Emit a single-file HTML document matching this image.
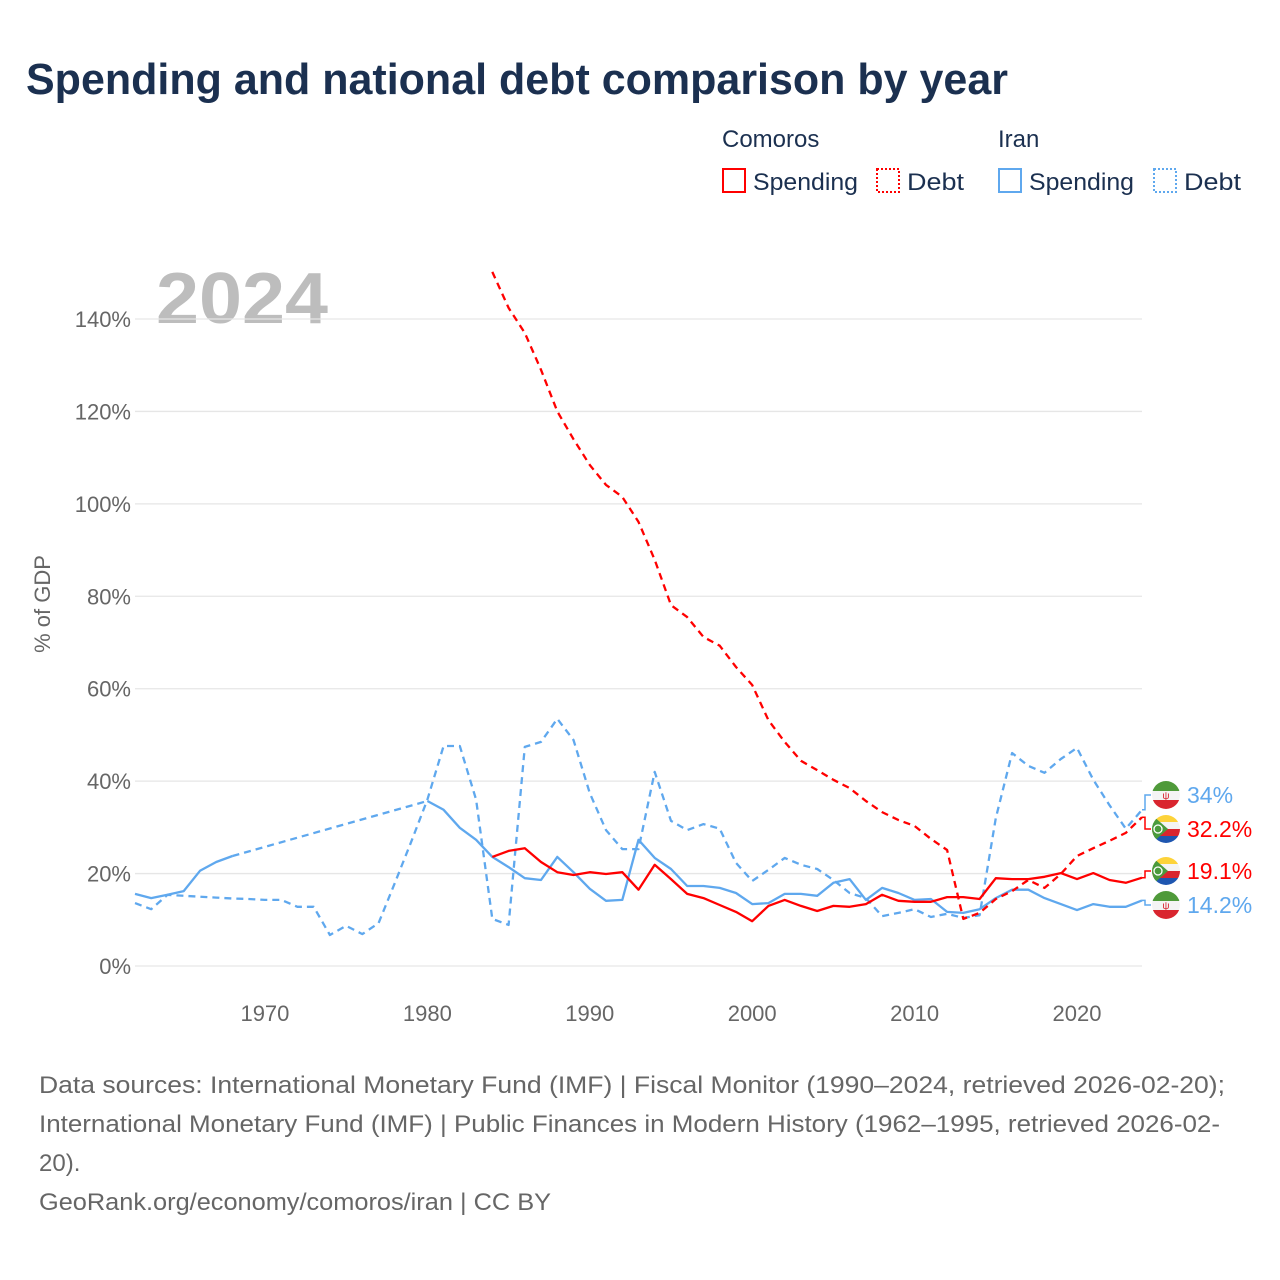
<!DOCTYPE html>
<html><head><meta charset="utf-8">
<style>
html,body{margin:0;padding:0;background:#fff;}
svg{display:block;font-family:"Liberation Sans",sans-serif;}
</style></head>
<body>
<svg id="chart" width="1280" height="1280" viewBox="0 0 1280 1280">
  <text x="26" y="94" font-size="44" font-weight="bold" fill="#1b3050" textLength="982" lengthAdjust="spacingAndGlyphs">Spending and national debt comparison by year</text>
  <g>
    <text x="722" y="147" font-size="24" fill="#1b3050">Comoros</text>
    <text x="998" y="147" font-size="24" fill="#1b3050">Iran</text>
    <g>
      <rect x="723" y="169" width="22" height="23" fill="none" stroke="#f00" stroke-width="2"/>
      <text x="753" y="190" font-size="24" fill="#1b3050" textLength="105" lengthAdjust="spacingAndGlyphs">Spending</text>
    </g>
    <g>
      <rect x="877" y="169" width="22" height="23" fill="none" stroke="#f00" stroke-width="2" stroke-dasharray="2 2"/>
      <text x="907" y="190" font-size="24" fill="#1b3050" textLength="57" lengthAdjust="spacingAndGlyphs">Debt</text>
    </g>
    <g>
      <rect x="999" y="169" width="22" height="23" fill="none" stroke="#5fa8ee" stroke-width="2"/>
      <text x="1029" y="190" font-size="24" fill="#1b3050" textLength="105" lengthAdjust="spacingAndGlyphs">Spending</text>
    </g>
    <g>
      <rect x="1154" y="169" width="22" height="23" fill="none" stroke="#5fa8ee" stroke-width="2" stroke-dasharray="2 2"/>
      <text x="1184" y="190" font-size="24" fill="#1b3050" textLength="57" lengthAdjust="spacingAndGlyphs">Debt</text>
    </g>
  </g>
  <text x="156" y="323" font-size="72" font-weight="bold" fill="#bdbdbd" textLength="172" lengthAdjust="spacingAndGlyphs">2024</text>
  <text transform="translate(50,604) rotate(-90)" text-anchor="middle" font-size="22" fill="#666">% of GDP</text>
  <g id="grid"></g>
  <g id="yticks"></g>
  <g id="xticks"></g>
  <g id="series"></g>
  <g id="labels"></g>
  <g font-size="24" fill="#666">
    <text x="39" y="1093" textLength="1186" lengthAdjust="spacingAndGlyphs">Data sources: International Monetary Fund (IMF) | Fiscal Monitor (1990–2024, retrieved 2026-02-20);</text>
    <text x="39" y="1132" textLength="1181" lengthAdjust="spacingAndGlyphs">International Monetary Fund (IMF) | Public Finances in Modern History (1962–1995, retrieved 2026-02-</text>
    <text x="39" y="1171">20).</text>
    <text x="39" y="1210" textLength="512" lengthAdjust="spacingAndGlyphs">GeoRank.org/economy/comoros/iran | CC BY</text>
  </g>
</svg>
<script>
const years = [];
for (let y = 1962; y <= 2024; y++) years.push(y);
const yTicks = [0, 20, 40, 60, 80, 100, 120, 140];
const xTicks = [1970, 1980, 1990, 2000, 2010, 2020];
// 1962..2024 (63 values); null = no data
const iranSpending = [15.6,14.7,15.4,16.2,20.6,22.5,23.8,null,null,null,null,null,null,null,null,null,null,null,
 35.7,33.8,29.9,27.3,23.6,21.4,19.0,18.6,23.6,20.3,16.7,14.1,14.3,27.3,23.4,21.0,17.3,17.3,16.9,15.8,13.4,13.6,15.6,15.6,15.2,18.0,18.8,14.3,16.9,15.8,14.3,14.5,11.7,11.5,12.3,14.7,16.5,16.5,14.7,13.4,12.1,13.4,12.8,12.8,14.2];
const iranDebt = [13.6,12.3,15.4,15.2,15.0,14.8,14.6,14.5,14.3,14.3,12.8,12.8,6.7,8.7,6.9,9.3,18.0,26.8,
 36.0,47.6,47.6,36.0,10.2,8.9,47.4,48.5,53.5,48.9,37.4,29.4,25.3,25.3,42.0,31.4,29.4,30.7,29.7,22.3,18.4,20.8,23.4,21.9,21.0,18.6,15.8,14.7,10.8,11.5,12.3,10.6,11.3,10.4,11.0,32.0,46.1,43.3,41.8,44.8,47.2,40.3,34.8,29.7,33.8];
const comorosSpending = [null,null,null,null,null,null,null,null,null,null,null,null,null,null,null,null,null,null,null,null,null,null,
 23.6,24.9,25.5,22.5,20.3,19.7,20.3,19.9,20.3,16.5,21.9,18.8,15.6,14.7,13.2,11.7,9.7,13.0,14.3,13.0,11.9,13.0,12.8,13.4,15.4,14.1,13.9,13.9,14.9,14.9,14.5,19.0,18.8,18.8,19.3,20.1,18.8,20.1,18.6,18.0,19.1];
const comorosDebt = [null,null,null,null,null,null,null,null,null,null,null,null,null,null,null,null,null,null,null,null,null,null,
 150.2,142.4,137.0,129.0,120.0,114.0,108.4,104.1,101.5,96.1,87.9,78.1,75.5,71.2,69.3,64.7,60.8,53.2,48.5,44.4,42.4,40.3,38.5,35.7,33.3,31.6,30.3,27.5,25.1,10.2,11.5,14.5,16.2,18.6,16.9,19.9,23.8,25.5,27.1,28.8,32.2];

const NS = "http://www.w3.org/2000/svg";
const X0 = 135, X1 = 1142, Y0 = 966, Y140 = 319;
function xs(yr){ return X0 + (yr - 1962) / (2024 - 1962) * (X1 - X0); }
function ys(v){ return Y0 - v / 140 * (Y0 - Y140); }
function mk(tag, attrs, parent){ const e = document.createElementNS(NS, tag); for (const k in attrs) e.setAttribute(k, attrs[k]); parent.appendChild(e); return e; }

const grid = document.getElementById('grid'), yt = document.getElementById('yticks'), xt = document.getElementById('xticks');
yTicks.forEach(v => {
  const l = mk('line', {x1: 135, x2: 1142, y1: ys(v), y2: ys(v), stroke: '#e6e6e6', 'stroke-width': 1.3}, grid);
  
  
  const t = mk('text', {x: 131, y: ys(v) + 8, 'text-anchor': 'end', 'font-size': 22, fill: '#666'}, yt);
  t.textContent = v + '%';
  
  
});
xTicks.forEach(yr => {
  const t = mk('text', {x: xs(yr), y: 1021, 'text-anchor': 'middle', 'font-size': 22, fill: '#666'}, xt);
  t.textContent = yr;
  
  
});

const ser = document.getElementById('series');
function segs(vals){
  const out = []; let cur = [];
  vals.forEach((v, i) => { if (v == null) { if (cur.length) out.push(cur); cur = []; } else cur.push([xs(years[i]), ys(v)]); });
  if (cur.length) out.push(cur);
  return out;
}
function pstr(pts){ return pts.map((p, i) => (i ? 'L' : 'M') + p[0].toFixed(1) + ' ' + p[1].toFixed(1)).join(' '); }
function drawSeries(vals, color, dashed, name){
  const s = segs(vals);
  s.forEach((pts, k) => {
    const p = mk('path', {d: pstr(pts), fill: 'none', stroke: color, 'stroke-width': 2.3, 'stroke-linejoin': 'round'}, ser);
    if (dashed) p.setAttribute('stroke-dasharray', '7 5');
    
    
    if (k > 0 && !dashed) {
      const prev = s[k-1][s[k-1].length-1];
      const g = mk('path', {d: pstr([prev, pts[0]]), fill: 'none', stroke: color, 'stroke-width': 2.3, 'stroke-dasharray': '7 5'}, ser);
      
      
    }
  });
}
drawSeries(iranDebt, '#5fa8ee', true, 'iran-debt');
drawSeries(iranSpending, '#5fa8ee', false, 'iran-spending');
drawSeries(comorosDebt, '#f00', true, 'comoros-debt');
drawSeries(comorosSpending, '#f00', false, 'comoros-spending');

// end labels
const lab = document.getElementById('labels');
const endItems = [
  {v: iranDebt[iranDebt.length-1], ly: 795, color: '#5fa8ee', flag: 'iran', txt: '34%', name: 'iran-debt'},
  {v: comorosDebt[comorosDebt.length-1], ly: 829, color: '#f00', flag: 'comoros', txt: '32.2%', name: 'comoros-debt'},
  {v: comorosSpending[comorosSpending.length-1], ly: 871, color: '#f00', flag: 'comoros', txt: '19.1%', name: 'comoros-spending'},
  {v: iranSpending[iranSpending.length-1], ly: 905, color: '#5fa8ee', flag: 'iran', txt: '14.2%', name: 'iran-spending'}
];
let cid = 0;
endItems.forEach(it => {
  const y0 = ys(it.v);
  const c = mk('path', {d: `M1142 ${y0.toFixed(1)} L1145 ${y0.toFixed(1)} L1145 ${it.ly} L1151 ${it.ly}`, fill: 'none', stroke: it.color, 'stroke-width': 1.5}, lab);
  
  
  const g = mk('g', {}, lab);
  
  
  const id = 'fc' + (cid++);
  const cp = mk('clipPath', {id: id}, g);
  mk('circle', {cx: 1166, cy: it.ly, r: 14}, cp);
  const fg = mk('g', {'clip-path': `url(#${id})`}, g);
  const t = it.ly - 14;
  if (it.flag === 'iran') {
    mk('rect', {x: 1152, y: t, width: 28, height: 10, fill: '#4f9a3a'}, fg);
    mk('rect', {x: 1152, y: t + 10, width: 28, height: 9, fill: '#f4f4f4'}, fg);
    mk('rect', {x: 1152, y: t + 19, width: 28, height: 9, fill: '#d9252f'}, fg);
    mk('text', {x: 1166, y: it.ly + 4, 'text-anchor': 'middle', 'font-size': 10, fill: '#d9252f'}, fg).textContent = 'ψ';
  } else {
    mk('rect', {x: 1152, y: t, width: 28, height: 7, fill: '#fdd33a'}, fg);
    mk('rect', {x: 1152, y: t + 7, width: 28, height: 7, fill: '#f4f4f4'}, fg);
    mk('rect', {x: 1152, y: t + 14, width: 28, height: 7, fill: '#d9252f'}, fg);
    mk('rect', {x: 1152, y: t + 21, width: 28, height: 7, fill: '#1e56b0'}, fg);
    mk('path', {d: `M1152 ${t} L1168 ${it.ly} L1152 ${t + 28} Z`, fill: '#4a9a3c'}, fg);
    mk('circle', {cx: 1158, cy: it.ly, r: 4, fill: 'none', stroke: '#fff', 'stroke-width': 1.3}, fg);
  }
  const tx = mk('text', {x: 1187, y: it.ly + 8, 'font-size': 23, fill: it.color}, lab);
  tx.textContent = it.txt;
  
  
});
</script>
</body></html>
